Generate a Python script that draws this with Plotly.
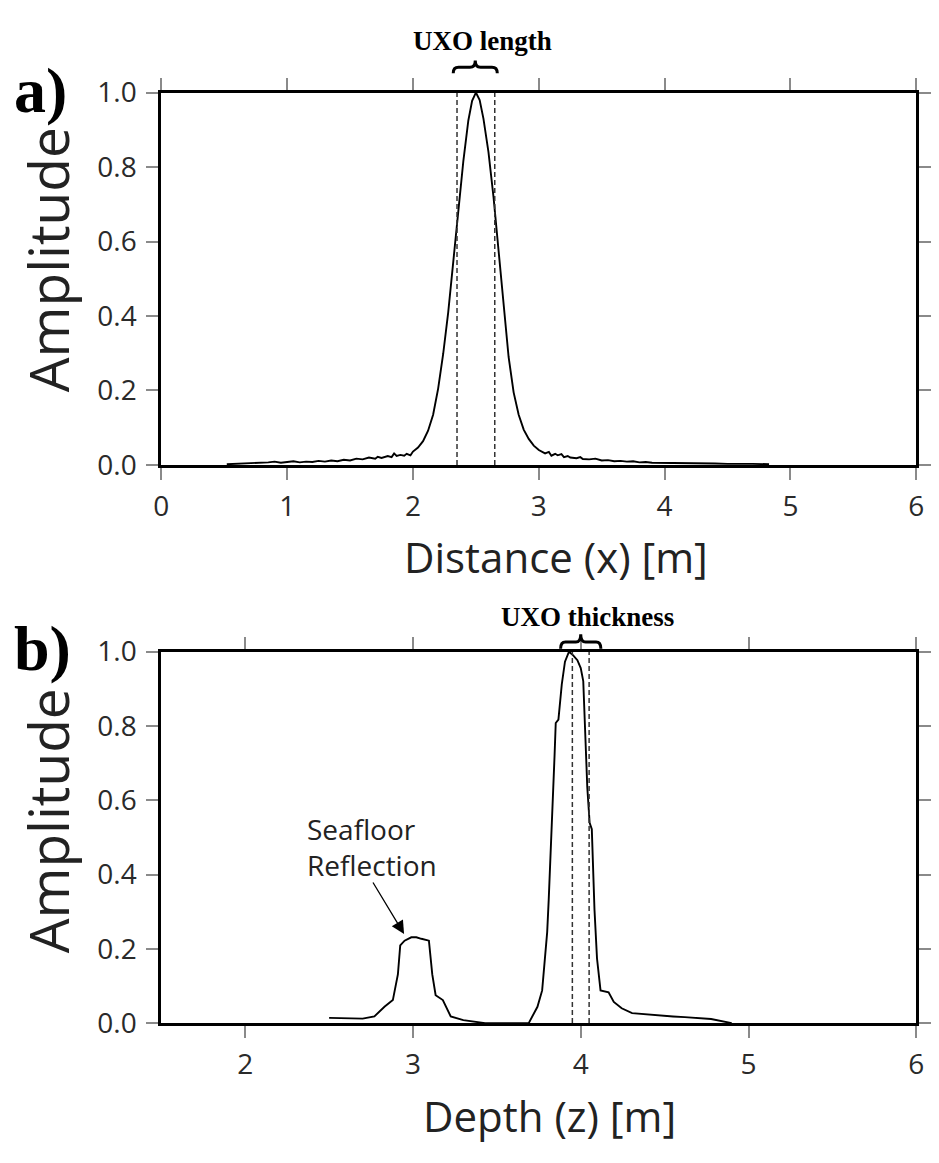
import plotly.graph_objects as go

# ---- (a) amplitude along the profile ----
dist_x = [0.52, 0.6, 0.7, 0.75, 0.8, 0.85, 0.9, 0.95, 1.0, 1.05, 1.1, 1.15, 1.2, 1.25,
          1.3, 1.35, 1.4, 1.45, 1.5, 1.55, 1.6, 1.65, 1.7, 1.72, 1.75, 1.8, 1.83, 1.85,
          1.87, 1.9, 1.93, 1.95, 1.98, 2.0, 2.04, 2.08, 2.12, 2.16, 2.2, 2.24, 2.28,
          2.32, 2.36, 2.40, 2.44, 2.47, 2.50, 2.53, 2.56, 2.60, 2.64, 2.68, 2.72, 2.76,
          2.80, 2.84, 2.88, 2.92, 2.96, 3.0, 3.05, 3.08, 3.1, 3.13, 3.15, 3.18, 3.2,
          3.23, 3.25, 3.3, 3.33, 3.35, 3.4, 3.45, 3.5, 3.55, 3.6, 3.65, 3.7, 3.75, 3.8,
          3.85, 3.9, 4.0, 4.1, 4.2, 4.3, 4.4, 4.5, 4.6, 4.7, 4.83]
amp_x = [0.002, 0.003, 0.004, 0.006, 0.005, 0.007, 0.009, 0.006, 0.008, 0.010, 0.007,
         0.009, 0.008, 0.011, 0.009, 0.012, 0.010, 0.014, 0.012, 0.017, 0.015, 0.020,
         0.017, 0.022, 0.019, 0.024, 0.021, 0.031, 0.024, 0.027, 0.025, 0.030, 0.026,
         0.036, 0.047, 0.064, 0.092, 0.135, 0.205, 0.298, 0.41, 0.545, 0.685, 0.815,
         0.925, 0.978, 1.0, 0.98, 0.93, 0.84, 0.72, 0.575, 0.42, 0.29, 0.195, 0.135,
         0.095, 0.07, 0.052, 0.04, 0.031, 0.035, 0.025, 0.030, 0.026, 0.029, 0.021,
         0.024, 0.020, 0.018, 0.021, 0.016, 0.015, 0.017, 0.012, 0.013, 0.010, 0.011,
         0.009, 0.010, 0.007, 0.008, 0.006, 0.006, 0.005, 0.005, 0.004, 0.004, 0.003,
         0.004, 0.003, 0.002]
uxo_length_bounds = [2.35, 2.65]

# ---- (b) amplitude with depth ----
depth_z = [2.50, 2.60, 2.70, 2.77, 2.83, 2.88, 2.91, 2.924, 2.95, 2.99, 3.02, 3.05, 3.095,
           3.115, 3.135, 3.178, 3.225, 3.30, 3.43, 3.69, 3.742, 3.77, 3.793, 3.80, 3.809,
           3.828, 3.844, 3.851, 3.867, 3.887, 3.906, 3.93, 3.955, 3.98, 4.0, 4.015, 4.027,
           4.039, 4.053, 4.066, 4.082, 4.097, 4.118, 4.166, 4.197, 4.244, 4.306, 4.464,
           4.55, 4.62, 4.714, 4.777, 4.90]
amp_z = [0.014, 0.013, 0.012, 0.018, 0.044, 0.062, 0.131, 0.209, 0.222, 0.231, 0.231,
         0.227, 0.222, 0.131, 0.075, 0.062, 0.018, 0.008, 0.0, 0.0, 0.044, 0.088, 0.218,
         0.245, 0.331, 0.522, 0.721, 0.808, 0.817, 0.912, 0.973, 1.0, 0.99, 0.977, 0.956,
         0.921, 0.782, 0.635, 0.539, 0.522, 0.305, 0.174, 0.088, 0.083, 0.057, 0.040,
         0.027, 0.020, 0.018, 0.016, 0.014, 0.011, 0.0]
uxo_thickness_bounds = [3.95, 4.05]
seafloor_peak = (2.947, 0.24)

x_range_a = [0, 6]
x_range_b = [1.5, 6]
y_range = [0, 1]
ticks_a = [0, 1, 2, 3, 4, 5, 6]
ticks_b = [2, 3, 4, 5, 6]
y_ticks = [0.0, 0.2, 0.4, 0.6, 0.8, 1.0]

W, H = 939, 1163
SANS = "Open Sans"
SERIF = "Liberation Serif"


def py(p):
    """pixel row -> paper y"""
    return 1 - p / H


def dom(v, rng):
    return (v - rng[0]) / (rng[1] - rng[0])


fig = go.Figure()

fig.add_trace(go.Scatter(x=dist_x, y=amp_x, mode="lines", xaxis="x", yaxis="y",
                         line=dict(color="black", width=1.9), showlegend=False))
fig.add_trace(go.Scatter(x=depth_z, y=amp_z, mode="lines", xaxis="x2", yaxis="y2",
                         line=dict(color="black", width=1.9), showlegend=False))

# dashed bounds
for bounds, xa, ya in [(uxo_length_bounds, "x", "y"), (uxo_thickness_bounds, "x2", "y2")]:
    xs, ys = [], []
    for b in bounds:
        xs += [b, b, None]
        ys += [y_range[0], y_range[1], None]
    fig.add_trace(go.Scatter(x=xs, y=ys, mode="lines", xaxis=xa, yaxis=ya,
                             line=dict(color="#333", width=1.5, dash="5px,3px"),
                             showlegend=False))

axis_common = dict(showline=True, linewidth=3, linecolor="black", mirror="ticks",
                   ticks="outside", ticklen=12, tickwidth=2, tickcolor="#8a8a8a",
                   showgrid=False, zeroline=False,
                   tickfont=dict(family=SANS, size=28, color="#2a2a2a"))

xdom = [156 / W, 924 / W]
layout = dict(
    width=W, height=H, margin=dict(l=0, r=0, t=0, b=0),
    paper_bgcolor="white", plot_bgcolor="white", showlegend=False,
    xaxis=dict(domain=xdom, range=x_range_a, tickvals=ticks_a, anchor="y",
               ticklabelstandoff=2, **axis_common),
    yaxis=dict(domain=[py(460), py(75)], range=y_range, tickvals=y_ticks,
               tickformat=".1f", anchor="x", ticklabelstandoff=4, **axis_common),
    xaxis2=dict(domain=xdom, range=x_range_b, tickvals=ticks_b, anchor="y2",
                ticklabelstandoff=2, **axis_common),
    yaxis2=dict(domain=[py(1037), py(653)], range=y_range, tickvals=y_ticks,
                tickformat=".1f", anchor="x2", ticklabelstandoff=4, **axis_common),
)
fig.update_layout(**layout)

ann = []
title_font = dict(family=SANS, size=42, color="#222")
# axis titles
ann.append(dict(text="Distance (x) [m]", xref="paper", yref="paper", x=557 / W, y=py(555),
                showarrow=False, font=title_font, xanchor="center", yanchor="middle"))
ann.append(dict(text="Depth (z) [m]", xref="paper", yref="paper", x=551 / W, y=py(1132),
                showarrow=False, font=title_font, xanchor="center", yanchor="middle"))
for yc in (py(248), py(828)):
    ann.append(dict(text="Amplitude", xref="paper", yref="paper", x=41 / W, y=yc,
                    showarrow=False, font=dict(family=SANS, size=55, color="#222"),
                    textangle=-90, xanchor="center", yanchor="middle"))
# panel letters
for lbl, yc in (("a)", py(73)), ("b)", py(650))):
    ann.append(dict(text=lbl, xref="paper", yref="paper", x=4 / W, y=yc,
                    showarrow=False, xanchor="left", yanchor="middle",
                    font=dict(family=SERIF, size=64, color="black", weight="bold")))
# feature labels
lab_font = dict(family=SERIF, size=27, color="black", weight="bold")
ann.append(dict(text="UXO length", xref="x", yref="paper", x=2.555, y=py(22),
                showarrow=False, font=lab_font, xanchor="center", yanchor="middle"))
ann.append(dict(text="UXO thickness", xref="x2", yref="paper", x=4.04, y=py(617),
                showarrow=False, font=lab_font, xanchor="center", yanchor="middle"))
ann.append(dict(text="Seafloor<br>Reflection", xref="x2", yref="y2", x=2.355, y=0.475,
                showarrow=False, align="left", xanchor="left", yanchor="middle",
                font=dict(family=SANS, size=28, color="#222")))
ann.append(dict(text="", xref="x2", yref="y2", x=seafloor_peak[0], y=seafloor_peak[1],
                showarrow=True, ax=-32, ay=-53, arrowhead=2, arrowsize=2.0,
                arrowwidth=1.3, arrowcolor="black"))
fig.update_layout(annotations=ann)


def brace(xa, xb, yb, ym, yt, xref, yref):
    xm = (xa + xb) / 2
    w = (xb - xa) * 0.12
    p = (f"M {xa},{yb} Q {xa},{ym} {xa + w},{ym} L {xm - w},{ym} "
         f"Q {xm},{ym} {xm},{yt} Q {xm},{ym} {xm + w},{ym} L {xb - w},{ym} "
         f"Q {xb},{ym} {xb},{yb}")
    return dict(type="path", path=p, xref=xref, yref=yref,
                line=dict(color="black", width=3))


fig.add_shape(brace(dom(2.32, x_range_a), dom(2.67, x_range_a),
                    1.052, 1.068, 1.086, "x domain", "y domain"))
fig.add_shape(brace(dom(3.88, x_range_b), dom(4.12, x_range_b),
                    1.008, 1.026, 1.047, "x2 domain", "y2 domain"))

fig.write_html("out.html")
